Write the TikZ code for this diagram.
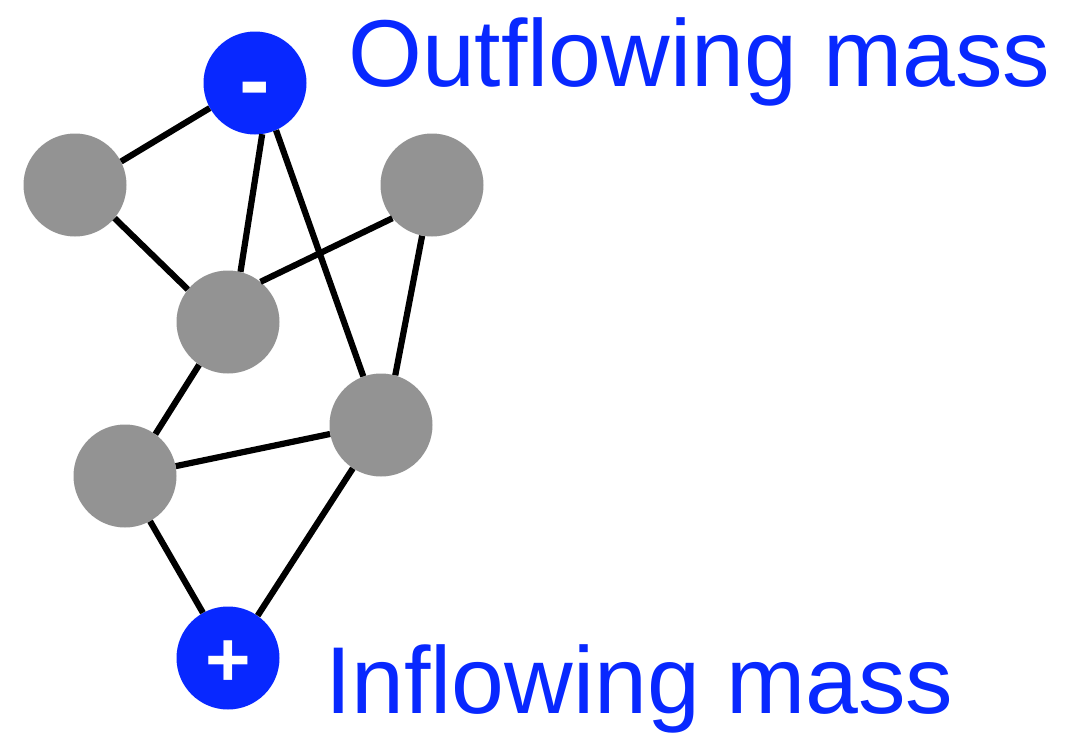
\documentclass[tikz,border=0pt]{standalone}
\usepackage{fontspec}
\setmainfont{Liberation Sans}
\definecolor{nodeblue}{RGB}{8,40,255}
\definecolor{nodegray}{RGB}{147,147,147}
\begin{document}
\begin{tikzpicture}[x=1pt,y=-1pt,
  gnode/.style={circle,fill=nodegray,minimum size=103pt,inner sep=0pt},
  bnode/.style={circle,fill=nodeblue,minimum size=103pt,inner sep=0pt},
  sign/.style={text=white,inner sep=0pt,anchor=base},
  edge/.style={line width=6.2pt,black},
  lbl/.style={text=nodeblue,inner sep=0pt,anchor=base west,font=\fontsize{95}{100}\selectfont}]
\useasboundingbox (0,0) rectangle (1072,736);
\node[bnode] (m) at (255,83) {};
\node[bnode] (p) at (228,658) {};
\node[gnode] (a) at (75,185) {};
\node[gnode] (b) at (432,185) {};
\node[gnode] (c) at (228,322) {};
\node[gnode] (d) at (381,425) {};
\node[gnode] (e) at (125,476) {};
\node[sign,font=\fontsize{92}{92}\selectfont\bfseries] (mt) at (255,111) {-};
\node[sign,font=\fontsize{78}{78}\selectfont\bfseries] (pt) at (228,686) {+};
\draw[edge] (m.-151) -- (a.27);
\draw[edge] (m.-82) -- (c.76);
\draw[edge] (m.-66) -- (d.110);
\draw[edge] (a.-40) -- (c.141);
\draw[edge] (c.51) -- (b.220);
\draw[edge] (b.-101) -- (d.74);
\draw[edge] (c.-124) -- (e.54);
\draw[edge] (e.11) -- (d.190);
\draw[edge] (e.-61) -- (p.119);
\draw[edge] (d.-123) -- (p.55);
\node[lbl] (out) at (348,86) {Outflowing mass};
\node[lbl] (in) at (325,713) {Inflowing mass};
\end{tikzpicture}
\end{document}
